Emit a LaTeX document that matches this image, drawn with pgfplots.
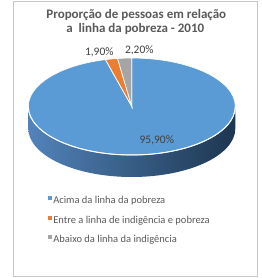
\documentclass[border=0pt]{standalone}
\usepackage{pgfplots}
\pgfplotsset{compat=1.18}
\usepackage{pgfplotstable}
\usepackage{fontspec}
\setmainfont{Carlito}
\definecolor{pblue}{HTML}{5B9BD5}
\definecolor{porange}{HTML}{ED7D31}
\definecolor{pgray}{HTML}{A5A5A5}
\definecolor{sideL}{HTML}{5283BA}
\definecolor{sideR}{HTML}{1D3650}
\definecolor{txt}{HTML}{595959}
\definecolor{lbl}{HTML}{404040}
\definecolor{framec}{HTML}{C8C8C8}

\pgfplotstableread{
value
95.9
1.9
2.2
}\piedata

\begin{document}
\pgfplotstablegetelem{0}{value}\of\piedata \let\va\pgfplotsretval
\pgfplotstablegetelem{1}{value}\of\piedata \let\vb\pgfplotsretval
\pgfplotstablegetelem{2}{value}\of\piedata \let\vc\pgfplotsretval
\pgfmathsetmacro\aA{90}
\pgfmathsetmacro\aB{\aA-3.6*\va}
\pgfmathsetmacro\aC{\aB-3.6*\vb}
\pgfmathsetmacro\aD{\aC-3.6*\vc}
\pgfkeys{/pgf/number format/.cd, fixed, fixed zerofill, precision=2, use comma, assume math mode=true}
\begin{tikzpicture}
\begin{axis}[scale only axis, width=250pt, height=278pt,
  xmin=0, xmax=250, ymin=0, ymax=278, hide axis, clip=false,
  legend style={at={(0.144,0.295)}, anchor=north west, draw=none, fill=none,
    font=\fontsize{10.5}{12}\selectfont, text=txt, inner sep=0pt,
    row sep=10pt, cells={anchor=west},
    nodes={inner sep=0pt, text height=7pt, text depth=2pt}},
  legend image code/.code={\fill[#1] (0.5pt,1pt) rectangle (4.5pt,5pt);},
  every axis plot post/.append style={draw=none}
]
\addlegendimage{fill=pblue}
\addlegendentry{\,Acima da linha da pobreza}
\addlegendimage{fill=porange}
\addlegendentry{\,Entre a linha de indigência e pobreza}
\addlegendimage{fill=pgray}
\addlegendentry{\,Abaixo da linha da indigência}

\draw[framec, line width=1pt] (axis cs:2.5,2) rectangle (axis cs:246,276.5);
% side wall
\shade[left color=sideL, right color=sideR]
  (axis cs:17,149.5) arc[start angle=180, end angle=360, x radius=103.5pt, y radius=48.5pt]
  -- (axis cs:224,171.5) arc[start angle=0, end angle=-180, x radius=103.5pt, y radius=48.5pt] -- cycle;
% top slices
\fill[pblue, draw=white, line width=0.7pt] (axis cs:120.5,171.5) -- ++(\aA:103.5pt and 48.5pt)
  arc[start angle=\aA, end angle=\aB, x radius=103.5pt, y radius=48.5pt] -- cycle;
\fill[porange, draw=white, line width=0.7pt] (axis cs:120.5,171.5) -- ++(\aB:103.5pt and 48.5pt)
  arc[start angle=\aB, end angle=\aC, x radius=103.5pt, y radius=48.5pt] -- cycle;
\fill[pgray, draw=white, line width=0.7pt] (axis cs:120.5,171.5) -- ++(\aC:103.5pt and 48.5pt)
  arc[start angle=\aC, end angle=\aD, x radius=103.5pt, y radius=48.5pt] -- cycle;
% front rim highlight
\draw[white, line width=1pt] (axis cs:17,171.5) arc[start angle=180, end angle=360, x radius=103.5pt, y radius=48.5pt];
% data labels
\node[anchor=base, font=\fontsize{11.5}{12}\selectfont, text=lbl, inner sep=0pt] at (axis cs:145.5,134)
  {\pgfmathprintnumber{\va}\%};
\node[anchor=base, font=\fontsize{11.5}{12}\selectfont, text=lbl, inner sep=0pt] at (axis cs:88,222.5)
  {\pgfmathprintnumber{\vb}\%};
\node[anchor=base, font=\fontsize{11.5}{12}\selectfont, text=lbl, inner sep=0pt] at (axis cs:128,224)
  {\pgfmathprintnumber{\vc}\%};
% title
\node[anchor=base, font=\bfseries\fontsize{13}{14}\selectfont, text=txt, inner sep=0pt] at (axis cs:125,259.7)
  {Proporção de pessoas em relação};
\node[anchor=base, font=\bfseries\fontsize{13}{14}\selectfont, text=txt, inner sep=0pt] at (axis cs:124,245.2)
  {a\ \ linha da pobreza - 2010};
\end{axis}
\pgfresetboundingbox
\path[use as bounding box] (0,0) rectangle (250pt,278pt);
\end{tikzpicture}
\end{document}
